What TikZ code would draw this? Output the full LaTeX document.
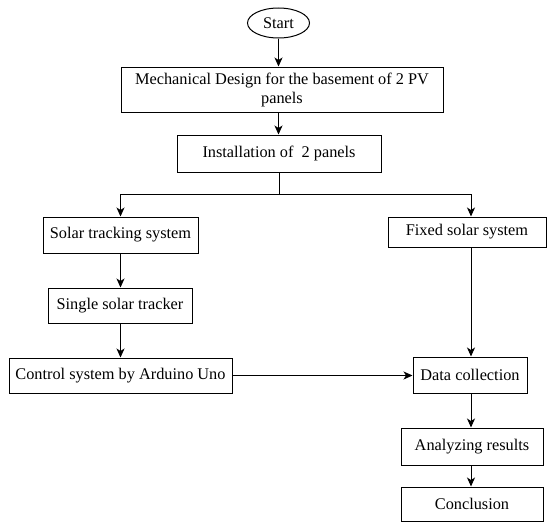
\documentclass[tikz,border=0pt]{standalone}
\usepackage{fontspec}
\setmainfont{Liberation Serif}
\usetikzlibrary{arrows.meta,shapes.geometric}
\begin{document}
\begin{tikzpicture}[x=1pt,y=-1pt,
  txt/.style={font=\fontsize{16.3}{19}\selectfont},
  box/.style={draw, line width=1pt, rectangle, inner sep=0pt, align=center, txt},
  arr/.style={line width=1pt, -{Stealth[length=9pt,width=8pt,inset=2.5pt]}},
  ln/.style={line width=1pt}]
\useasboundingbox (0,0) rectangle (548,522);
\node[draw, line width=1pt, ellipse, minimum width=62pt, minimum height=30pt, inner sep=0pt, txt] (start) at (278.5,23) {Start};
\node[box, minimum width=322pt, minimum height=45pt] (mech) at (282,89.5) {Mechanical Design for the basement of 2 PV\\panels};
\node[box, minimum width=204pt, minimum height=37pt] (inst) at (279,153.5) {Installation of\ \ 2 panels};
\node[box, minimum width=155pt, minimum height=36pt] (track) at (120.5,235) {Solar tracking system};
\node[box, minimum width=144pt, minimum height=35pt] (single) at (120,305.5) {Single solar tracker};
\node[box, minimum width=223pt, minimum height=35pt] (ctrl) at (120.5,375.5) {Control system by Arduino Uno};
\node[box, minimum width=158pt, minimum height=30pt] (fixed) at (467,232) {Fixed solar system};
\node[box, minimum width=114pt, minimum height=36pt] (data) at (470,375) {Data collection};
\node[box, minimum width=142pt, minimum height=37pt] (anal) at (472,446.5) {Analyzing results};
\node[box, minimum width=142pt, minimum height=34pt] (concl) at (472,504) {Conclusion};
\coordinate (br) at (279,194);
\draw[arr] (start.south) -- (start.south |- mech.north);
\draw[arr] (mech.south -| start.south) -- (inst.north -| start.south);
\draw[ln] (inst.south) -- (br);
\draw[arr] (br) -| (track.north);
\draw[arr] (br) -| ([xshift=4pt]fixed.north);
\draw[arr] (track.south) -- (single.north -| track.south);
\draw[arr] (single.south -| track.south) -- (ctrl.north -| track.south);
\draw[arr] (ctrl.east) -- (data.west |- ctrl.east);
\draw[arr] ([xshift=4pt]fixed.south) -- ([xshift=4pt]fixed.south |- data.north);
\draw[arr] (data.south -| 471,0) -- (anal.north -| 471,0);
\draw[arr] (anal.south -| 471,0) -- (concl.north -| 471,0);
\end{tikzpicture}
\end{document}
